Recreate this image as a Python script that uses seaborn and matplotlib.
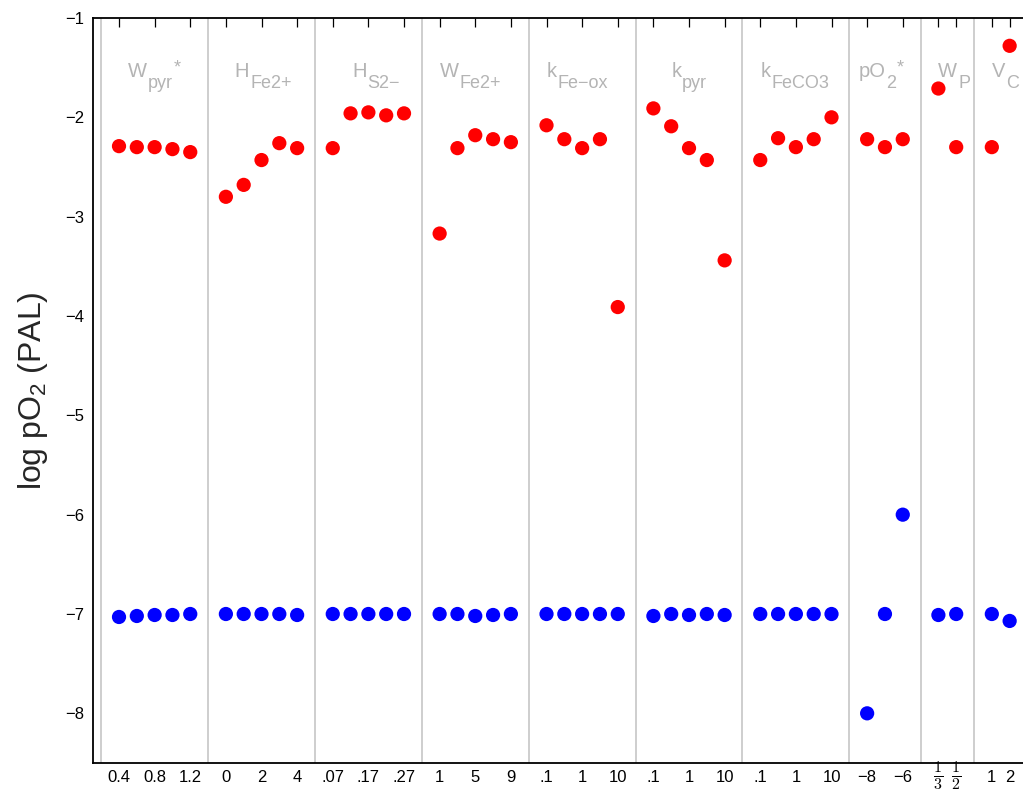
import numpy as np
import pandas as pd
import matplotlib
matplotlib.use("Agg")
import matplotlib.pyplot as plt
import seaborn as sns

# ---------------------------------------------------------------------------
# Sensitivity sweep: steady-state log pO2 (PAL) for each model parameter.
# Two stable branches per run: an oxygenated (upper) and a reduced (lower) one.
# ---------------------------------------------------------------------------
group_main = ["W", "H", "H", "W", "k", "k", "k", "pO", "W", "V"]
group_sub = ["pyr", "Fe2+", "S2\u2212", "Fe2+", "Fe\u2212ox", "pyr", "FeCO3", "2", "P", "C"]
group_sup = ["*", "", "", "", "", "", "", "*", "", ""]

upper_wpyr = [-2.29, -2.30, -2.30, -2.32, -2.35]
upper_hfe = [-2.80, -2.68, -2.43, -2.26, -2.31]
upper_hs = [-2.31, -1.96, -1.95, -1.98, -1.96]
upper_wfe = [-3.17, -2.31, -2.18, -2.22, -2.25]
upper_kfeox = [-2.08, -2.22, -2.31, -2.22, -3.91]
upper_kpyr = [-1.91, -2.09, -2.31, -2.43, -3.44]
upper_kfeco3 = [-2.43, -2.21, -2.30, -2.22, -2.00]
upper_po2 = [-2.22, -2.30, -2.22]
upper_wp = [-1.71, -2.30]
upper_vc = [-2.30, -1.28]

lower_wpyr = [-7.03, -7.02, -7.01, -7.01, -7.00]
lower_hfe = [-7.00, -7.00, -7.00, -7.00, -7.01]
lower_hs = [-7.00, -7.00, -7.00, -7.00, -7.00]
lower_wfe = [-7.00, -7.00, -7.02, -7.01, -7.00]
lower_kfeox = [-7.00, -7.00, -7.00, -7.00, -7.00]
lower_kpyr = [-7.02, -7.00, -7.01, -7.00, -7.01]
lower_kfeco3 = [-7.00, -7.00, -7.00, -7.00, -7.00]
lower_po2 = [-8.00, -7.00, -6.00]
lower_wp = [-7.01, -7.00]
lower_vc = [-7.00, -7.07]

# parameter values shown under each group ("" = run without a label)
ticks_wpyr = ["0.4", "", "0.8", "", "1.2"]
ticks_hfe = ["0", "", "2", "", "4"]
ticks_hs = [".07", "", ".17", "", ".27"]
ticks_wfe = ["1", "", "5", "", "9"]
ticks_kfeox = [".1", "", "1", "", "10"]
ticks_kpyr = [".1", "", "1", "", "10"]
ticks_kfeco3 = [".1", "", "1", "", "10"]
ticks_po2 = ["\u22128", "", "\u22126"]
ticks_wp = [r"$\frac{\mathrm{1}}{\mathrm{3}}$", r"$\frac{\mathrm{1}}{\mathrm{2}}$"]
ticks_vc = ["1", "2"]

upper = [upper_wpyr, upper_hfe, upper_hs, upper_wfe, upper_kfeox,
         upper_kpyr, upper_kfeco3, upper_po2, upper_wp, upper_vc]
lower = [lower_wpyr, lower_hfe, lower_hs, lower_wfe, lower_kfeox,
         lower_kpyr, lower_kfeco3, lower_po2, lower_wp, lower_vc]
ticks = [ticks_wpyr, ticks_hfe, ticks_hs, ticks_wfe, ticks_kfeox,
         ticks_kpyr, ticks_kfeco3, ticks_po2, ticks_wp, ticks_vc]

# label placement inside each panel (slots after the separator)
label_shift = [1.5, 1.5, 2.1, 1.0, 1.0, 2.0, 1.0, 0.5, 1.0, 1.0]

# ---------------------------------------------------------------------------
# Build long-form table: each run gets one slot; a blank slot separates groups
# ---------------------------------------------------------------------------
rows = []
separators = []
tick_pos, tick_lab = [], []
group_start = []
pos = 0
for g in range(len(upper)):
    separators.append(pos)
    group_start.append(pos)
    for i, (hi, lo, lab) in enumerate(zip(upper[g], lower[g], ticks[g])):
        slot = pos + 1 + i
        rows.append({"slot": slot, "log_pO2": hi, "branch": "upper"})
        rows.append({"slot": slot, "log_pO2": lo, "branch": "lower"})
        if lab:
            tick_pos.append(slot)
            tick_lab.append(lab)
    pos += len(upper[g]) + 1
df = pd.DataFrame(rows)

sns.set_theme(style="white")
plt.rcParams["font.family"] = ["Liberation Sans", "DejaVu Sans"]
plt.rcParams["mathtext.fontset"] = "custom"
plt.rcParams["mathtext.rm"] = "Liberation Sans"

fig = plt.figure(figsize=(10.23, 7.92), dpi=100)
ax = fig.add_axes([93 / 1023, 29 / 792, 930 / 1023, 745 / 792])

for s in separators:
    ax.axvline(s, color="#c6c6c6", lw=1.2, zorder=1)

sns.scatterplot(data=df, x="slot", y="log_pO2", hue="branch",
                palette={"upper": "#ff0000", "lower": "#0000ff"},
                s=105, linewidth=0, legend=False, ax=ax, zorder=3)

ax.set_xlim(-0.46, 51.75)
ax.set_ylim(-8.5, -1)
ax.set_yticks(np.arange(-8, 0, 1))
ax.set_yticklabels([f"\u2212{abs(v)}" for v in range(-8, 0)])

# stacked fractions are drawn separately so they can sit closer to the axis
plain_lab = [lab if "frac" not in lab else "" for lab in tick_lab]
ax.set_xticks(tick_pos)
ax.set_xticklabels(plain_lab)
for p, lab in zip(tick_pos, tick_lab):
    if "frac" in lab:
        ax.annotate(lab, xy=(p, 0), xycoords=("data", "axes fraction"),
                    xytext=(0, 2.5), textcoords="offset points",
                    ha="center", va="top", fontsize=16.5,
                    math_fontfamily="cm", color="black", annotation_clip=False)

ax.tick_params(axis="both", direction="in", length=6.5, width=0.9,
               colors="black", labelsize=12, top=True, right=False)
ax.tick_params(axis="x", pad=5)
ax.tick_params(axis="y", pad=6)
for side in ["left", "bottom", "top"]:
    ax.spines[side].set_color("black")
    ax.spines[side].set_linewidth(1.3)
ax.spines["right"].set_visible(False)

ax.set_xlabel("")
ax.set_ylabel(r"log pO$_\mathrm{2}$ (PAL)", fontsize=23, labelpad=11)

# panel titles: parameter symbol with offset sub/superscripts
grey = "#b4b4b4"
label_y = -1.595
for g in range(len(upper)):
    x0 = group_start[g] + label_shift[g]
    base = ax.text(x0, label_y, group_main[g], fontsize=14.5, color=grey,
                   ha="left", va="baseline", zorder=2)
    sub = ax.annotate(group_sub[g], xy=(1, 0), xycoords=base,
                      xytext=(0.6, -5.0), textcoords="offset points",
                      fontsize=13, color=grey, ha="left", va="baseline")
    if group_sup[g]:
        ax.annotate(group_sup[g], xy=(1, 1), xycoords=(sub, base),
                    xytext=(0.8, 2.0), textcoords="offset points",
                    fontsize=13, color=grey, ha="left", va="top")

fig.savefig("out.png", dpi=100)
